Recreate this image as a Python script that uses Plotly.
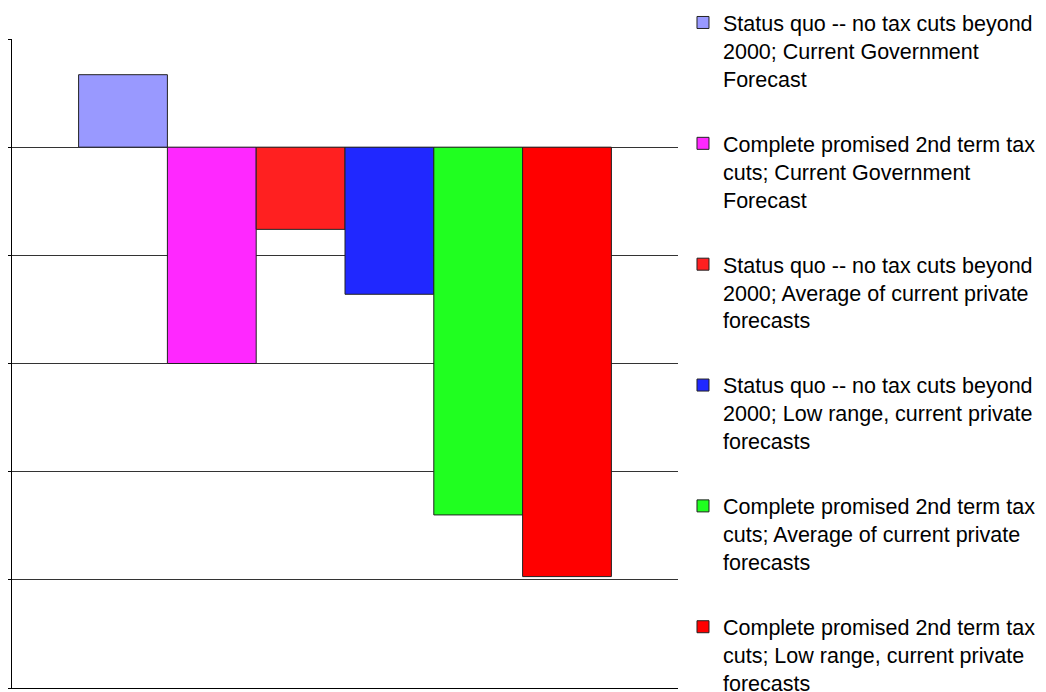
import plotly.graph_objects as go

categories = [""]
series_names = [
    "Status quo -- no tax cuts beyond<br>2000; Current Government<br>Forecast",
    "Complete promised 2nd term tax<br>cuts; Current Government<br>Forecast",
    "Status quo -- no tax cuts beyond<br>2000; Average of current private<br>forecasts",
    "Status quo -- no tax cuts beyond<br>2000; Low range, current private<br>forecasts",
    "Complete promised 2nd term tax<br>cuts; Average of current private<br>forecasts",
    "Complete promised 2nd term tax<br>cuts; Low range, current private<br>forecasts",
]
series_values = [0.67, -2.0, -0.76, -1.36, -3.40, -3.97]
series_colors = ["#9999FF", "#FF28FF", "#FF2020", "#2028FF", "#20FF20", "#FF0000"]

fig = go.Figure()
for i, (name, val, col) in enumerate(zip(series_names, series_values, series_colors)):
    fig.add_trace(go.Bar(
        x=categories, y=[val], name=name, legendgroup=f"g{i}",
        marker=dict(color=col, line=dict(color="#222222", width=1)),
    ))

fig.update_layout(
    width=1038, height=684,
    paper_bgcolor="white", plot_bgcolor="white",
    margin=dict(l=4, r=368, t=31, b=4, autoexpand=False),
    barmode="group", bargap=0.2, bargroupgap=0,
    font=dict(family="Liberation Sans, Arial, sans-serif", size=21.5, color="black"),
    showlegend=True,
    legend=dict(
        x=1.0075, xanchor="left", y=1.057, yanchor="top",
        valign="top", traceorder="grouped", tracegroupgap=34,
        maxheight=2000,
        bgcolor="rgba(0,0,0,0)", font=dict(size=21.5),
    ),
)
fig.update_xaxes(showticklabels=False, ticks="", showgrid=False,
                 showline=True, linecolor="black", linewidth=1, mirror=False)
fig.update_yaxes(range=[-5, 1], dtick=1, showticklabels=False,
                 ticks="outside", ticklen=5, tickcolor="black",
                 showgrid=True, gridcolor="#333333", gridwidth=1,
                 zeroline=True, zerolinecolor="#333333", zerolinewidth=1,
                 showline=True, linecolor="black", linewidth=1)

fig.write_html("out.html")
